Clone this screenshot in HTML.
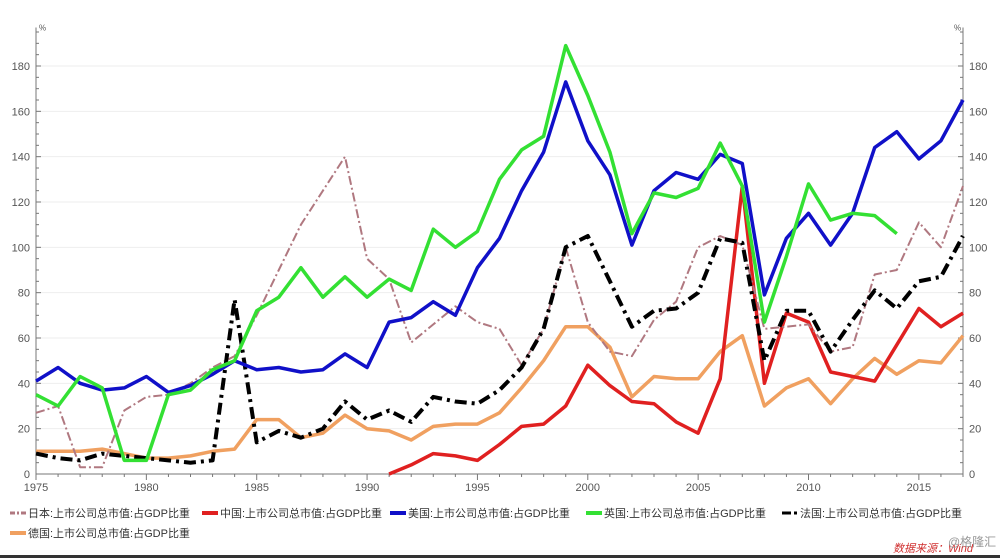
<!DOCTYPE html>
<html><head><meta charset="utf-8"><style>
body{margin:0;background:#fff;}
svg{display:block;font-family:"Liberation Sans","Noto Sans CJK SC",sans-serif;}
</style></head><body>
<svg id="chart" width="1000" height="558" viewBox="0 0 1000 558" xmlns="http://www.w3.org/2000/svg">
<rect x="0" y="0" width="1000" height="558" fill="#fff"/>
<g id="grid"></g>
<g id="axes"></g>
<g id="series"></g>
<g id="legend"></g>
<text x="893" y="552" font-size="11" fill="#d03030" font-style="italic">数据来源：Wind</text>
<text x="948" y="546" font-size="12" fill="#999">@格隆汇</text>
<rect x="0" y="555" width="1000" height="3" fill="#333"/>
</svg>
<script>
const years = [];
for (let y = 1975; y <= 2017; y++) years.push(y);
const yTicks = [0,20,40,60,80,100,120,140,160,180];
const xTickLabels = [1975,1980,1985,1990,1995,2000,2005,2010,2015];
const japan = [27,30,3,3,28,34,35,40,47,52,70,90,110,125,140,95,86,58,66,74,67,64,48,64,100,67,54,52,68,76,100,105,101,64,65,66,54,56,88,90,111,100,127];
const china = [null,null,null,null,null,null,null,null,null,null,null,null,null,null,null,null,0,4,9,8,6,13,21,22,30,48,39,32,31,23,18,42,127,40,71,67,45,43,41,57,73,65,71];
const usa = [41,47,40,37,38,43,36,39,44,50,46,47,45,46,53,47,67,69,76,70,91,104,125,142,173,147,132,101,125,133,130,141,137,79,104,115,101,115,144,151,139,147,165];
const uk = [35,30,43,38,6,6,35,37,46,50,72,78,91,78,87,78,86,81,108,100,107,130,143,149,189,167,142,106,124,122,126,146,127,67,96,128,112,115,114,106,null,null,null];
const france = [9,7,6,9,8,7,6,5,6,77,14,19,16,20,32,24,28,23,34,32,31,37,47,64,100,105,85,65,72,73,80,104,102,50,72,72,54,68,81,73,85,87,105];
const germany = [10,10,10,11,9,7,7,8,10,11,24,24,16,18,26,20,19,15,21,22,22,27,38,50,65,65,56,34,43,42,42,54,61,30,38,42,31,42,51,44,50,49,61];
const seriesNames = ["日本:上市公司总市值:占GDP比重","中国:上市公司总市值:占GDP比重","美国:上市公司总市值:占GDP比重","英国:上市公司总市值:占GDP比重","法国:上市公司总市值:占GDP比重","德国:上市公司总市值:占GDP比重"];

const NS="http://www.w3.org/2000/svg";
const X0=36,X1=963,Y0=474,Y180=66;
const xs=y=>X0+(y-1975)*(X1-X0)/(2017-1975);
const ys=v=>Y0-v*(Y0-Y180)/180;
function mk(tag,attrs,parent){const e=document.createElementNS(NS,tag);for(const k in attrs)e.setAttribute(k,attrs[k]);parent.appendChild(e);return e;}
const grid=document.getElementById('grid'),axes=document.getElementById('axes'),ser=document.getElementById('series'),leg=document.getElementById('legend');

yTicks.forEach(t=>{
  if(t>0){const g=mk('line',{x1:X0,x2:X1,y1:ys(t),y2:ys(t),stroke:'#eeeeee','stroke-width':1},grid);
  
  }
  const l=mk('text',{x:X0-6,y:ys(t)+4,'font-size':11,fill:'#555','text-anchor':'end'},axes);l.textContent=t;
  
  
  const r=mk('text',{x:X1+6,y:ys(t)+4,'font-size':11,fill:'#555'},axes);r.textContent=t;
  
  
});
for(let v=0;v<=195;v+=5){
  const len=v%20===0?5:3;
  mk('line',{x1:X0,x2:X0+len,y1:ys(v),y2:ys(v),stroke:'#777'},axes);
  mk('line',{x1:X1,x2:X1-len,y1:ys(v),y2:ys(v),stroke:'#777'},axes);
}
mk('line',{x1:X0,x2:X0,y1:ys(197),y2:Y0,stroke:'#777'},axes);
mk('line',{x1:X1,x2:X1,y1:ys(197),y2:Y0,stroke:'#777'},axes);
mk('line',{x1:X0,x2:X1,y1:Y0,y2:Y0,stroke:'#777'},axes);
const p1=mk('text',{x:X0+3,y:ys(197)+3,'font-size':8,fill:'#555'},axes);p1.textContent='%';


const p2=mk('text',{x:X1-9,y:ys(197)+3,'font-size':8,fill:'#555'},axes);p2.textContent='%';


years.forEach(y=>{const maj=(y-1975)%5===0;mk('line',{x1:xs(y),x2:xs(y),y1:Y0,y2:Y0+(maj?6:3),stroke:'#777'},axes);});
xTickLabels.forEach(y=>{const t=mk('text',{x:xs(y),y:Y0+17,'font-size':11,fill:'#555','text-anchor':'middle'},axes);t.textContent=y;
  
  });

const styles=[
 {data:japan,color:'#b07880',w:2,dash:'9 3 2 3'},
 {data:china,color:'#e02020',w:3.5,dash:''},
 {data:usa,color:'#1010c8',w:3.5,dash:''},
 {data:uk,color:'#33e033',w:3.5,dash:''},
 {data:france,color:'#000',w:4,dash:'12 5 3 5'},
 {data:germany,color:'#f0a060',w:3.5,dash:''}
];
const order=[5,1,0,4,2,3];
const keys=['japan','china','usa','uk','france','germany'];
order.forEach(i=>{
  const s=styles[i];let d='';let started=false;
  s.data.forEach((v,j)=>{if(v===null){started=false;return;}d+=(started?'L':'M')+xs(years[j]).toFixed(1)+' '+ys(v).toFixed(1)+' ';started=true;});
  const p=mk('path',{d:d,fill:'none',stroke:s.color,'stroke-width':s.w,'stroke-linejoin':'round','stroke-dasharray':s.dash},ser);
  
  
});
const legPos=[[8,517],[200,517],[388,517],[584,517],[780,517],[8,537]];
seriesNames.forEach((n,i)=>{
  const s=styles[i],[lx,ly]=legPos[i];
  const g=mk('g',{},leg);
  
  
  mk('line',{x1:lx+2,x2:lx+18,y1:ly-4,y2:ly-4,stroke:s.color,'stroke-width':s.dash?3:4,'stroke-dasharray':s.dash?(i===0?'5 2 2 2':'9 3 3 3'):''},g);
  const t=mk('text',{x:lx+20,y:ly,'font-size':11,fill:'#333'},g);t.textContent=n;
});
</script>
</body></html>
